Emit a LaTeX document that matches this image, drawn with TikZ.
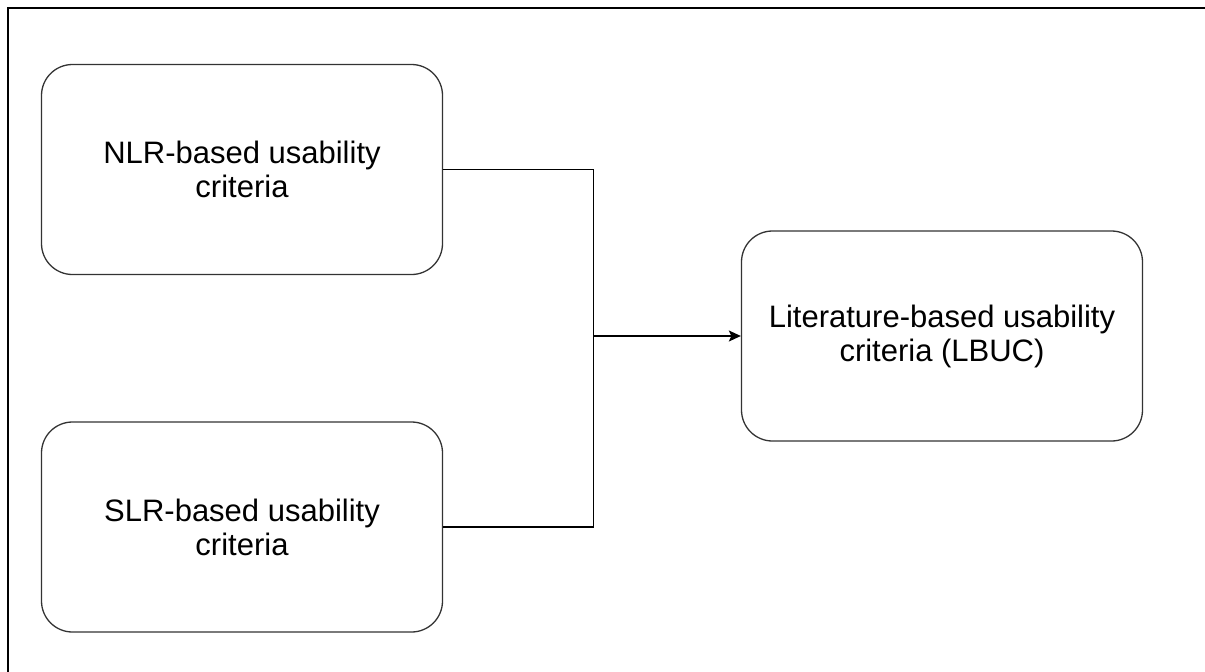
\documentclass[tikz,border=0pt]{standalone}
\usepackage{fontspec}
\setmainfont{Liberation Sans}
\usetikzlibrary{arrows.meta}
\definecolor{edgegray}{HTML}{333333}
\begin{document}
\begin{tikzpicture}[x=1pt,y=-1pt,
  card/.style={draw=edgegray, line width=1.3pt, rounded corners=31pt,
    minimum width=401pt, minimum height=210pt, align=center, inner sep=0pt,
    font=\fontsize{31}{34}\selectfont},
  link/.style={draw=black, line width=1.3pt}]
  \useasboundingbox (0,0) rectangle (1205,672);
  % frame lines along the top and left
  \draw[line width=2.2pt] (8,672) -- (8,8) -- (1205,8);
  \node[card] (nlr) at (242,169.5) {NLR-based usability\\criteria};
  \node[card] (slr) at (242,527) {SLR-based usability\\criteria};
  \node[card] (lbuc) at (942,336) {Literature-based usability\\criteria (LBUC)};
  \coordinate (j) at (593.5,336);
  \draw[link] (nlr.east) -| (j);
  \draw[link] (slr.east) -| (j);
  \draw[link, -{Stealth[length=12pt,width=11pt,inset=2.5pt]}] (j) -- (lbuc.west);
\end{tikzpicture}
\end{document}
